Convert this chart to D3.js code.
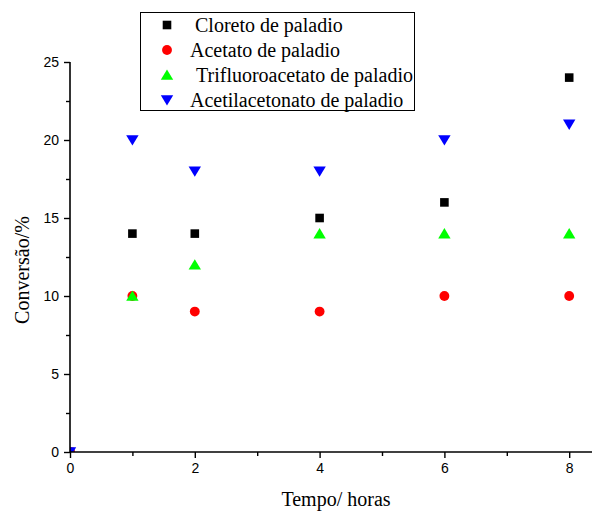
<!DOCTYPE html>
<html>
<head>
<meta charset="utf-8">
<script src="https://cdn.jsdelivr.net/npm/d3@7"></script>
<style>
  html, body { margin: 0; padding: 0; background: #fff; }
  svg { display: block; }
</style>
</head>
<body>
<svg id="chart" width="592" height="513"></svg>
<script>
// Reaction time (hours)
const hours = [0, 1, 2, 4, 6, 8];

// Conversion (%) per palladium salt
const cloreto = [0, 14, 14, 15, 16, 24];
const acetato = [0, 10, 9, 9, 10, 10];
const trifluoroacetato = [0, 10, 12, 14, 14, 14];
const acetilacetonato = [0, 20, 18, 18, 20, 21];

const seriesNames = [
  "Cloreto de paladio",
  "Acetato de paladio",
  "Trifluoroacetato de paladio",
  "Acetilacetonato de paladio"
];

const xTicks = [0, 2, 4, 6, 8];
const yTicks = [0, 5, 10, 15, 20, 25];

const svg = d3.select("#chart");
const plotLeft = 70, plotBottom = 452, plotTop = 62, plotRight = 600;

const x = d3.scaleLinear().domain([0, 8.5]).range([plotLeft, plotLeft + 8.5 * 62.4]);
const y = d3.scaleLinear().domain([0, 25]).range([plotBottom, plotTop]);

const series = [
  { name: seriesNames[0], values: cloreto, color: "#000000", shape: "square" },
  { name: seriesNames[1], values: acetato, color: "#ff0000", shape: "circle" },
  { name: seriesNames[2], values: trifluoroacetato, color: "#00ff00", shape: "up" },
  { name: seriesNames[3], values: acetilacetonato, color: "#0000ff", shape: "down" }
];

function symbolPath(shape) {
  if (shape === "square") return "M-4.3,-4.3H4.3V4.3H-4.3Z";
  if (shape === "circle") return d3.symbol(d3.symbolCircle, 76)();
  if (shape === "up") return "M0,-5.5L6.2,4.8L-6.2,4.8Z";
  return "M0,5.5L6.2,-4.8L-6.2,-4.8Z";
}

// Clip markers to the plotting region
svg.append("defs").append("clipPath").attr("id", "plotClip")
  .append("rect").attr("x", plotLeft).attr("y", 0)
  .attr("width", plotRight - plotLeft).attr("height", plotBottom);

const marks = svg.append("g").attr("clip-path", "url(#plotClip)");
series.forEach(s => {
  marks.selectAll(null)
    .data(hours.map((h, i) => [h, s.values[i]]))
    .enter().append("path")
    .attr("d", symbolPath(s.shape))
    .attr("transform", d => `translate(${x(d[0])},${y(d[1])})`)
    .attr("fill", s.color);
});

// X axis: minor ticks at odd hours, labelled major ticks at even hours
const xMinor = svg.append("g").attr("transform", `translate(0,${plotBottom})`)
  .call(d3.axisBottom(x).tickValues(d3.range(1, 8, 2)).tickSize(4).tickFormat(""));
xMinor.select(".domain").remove();
const xMajor = svg.append("g").attr("transform", `translate(0,${plotBottom})`)
  .call(d3.axisBottom(x).tickValues(xTicks).tickSize(6).tickPadding(5).tickFormat(d3.format("d")));
xMajor.select(".domain").remove();
svg.append("line").attr("x1", plotLeft).attr("x2", plotRight)
  .attr("y1", plotBottom).attr("y2", plotBottom)
  .attr("stroke", "#000").attr("stroke-width", 1.6);

// Y axis
const yMinor = svg.append("g").attr("transform", `translate(${plotLeft},0)`)
  .call(d3.axisLeft(y).tickValues(d3.range(2.5, 25, 5)).tickSize(4).tickFormat(""));
yMinor.select(".domain").remove();
const yMajor = svg.append("g").attr("transform", `translate(${plotLeft},0)`)
  .call(d3.axisLeft(y).tickValues(yTicks).tickSize(6).tickPadding(5).tickFormat(d3.format("d")));
yMajor.select(".domain").remove();
svg.append("line").attr("x1", plotLeft).attr("x2", plotLeft)
  .attr("y1", plotTop).attr("y2", plotBottom)
  .attr("stroke", "#000").attr("stroke-width", 1.6);

svg.selectAll("g.tick line").attr("stroke-width", 1.4);
svg.selectAll("g.tick text")
  .attr("font-family", "'Liberation Sans', Arial, sans-serif")
  .attr("font-size", 14).attr("fill", "#000");

// Axis titles
svg.append("text")
  .attr("x", 336).attr("y", 506)
  .attr("text-anchor", "middle")
  .attr("font-family", "'Liberation Serif', 'Times New Roman', serif")
  .attr("font-size", 20)
  .text("Tempo/ horas");

svg.append("text")
  .attr("transform", "translate(29,270) rotate(-90)")
  .attr("text-anchor", "middle")
  .attr("font-family", "'Liberation Serif', 'Times New Roman', serif")
  .attr("font-size", 20)
  .text("Conversão/%");

// Legend
const legend = svg.append("g");
legend.append("rect")
  .attr("x", 140.5).attr("y", 12.5).attr("width", 274).attr("height", 98)
  .attr("fill", "#fff").attr("stroke", "#000").attr("stroke-width", 1);
const textX = [195, 190, 196, 190];
series.forEach((s, i) => {
  const cy = 25 + i * 25;
  legend.append("path")
    .attr("d", symbolPath(s.shape))
    .attr("transform", `translate(167,${cy})`)
    .attr("fill", s.color);
  legend.append("text")
    .attr("x", textX[i]).attr("y", cy + 7)
    .attr("font-family", "'Liberation Serif', 'Times New Roman', serif")
    .attr("font-size", 20)
    .text(s.name);
});
</script>
</body>
</html>
